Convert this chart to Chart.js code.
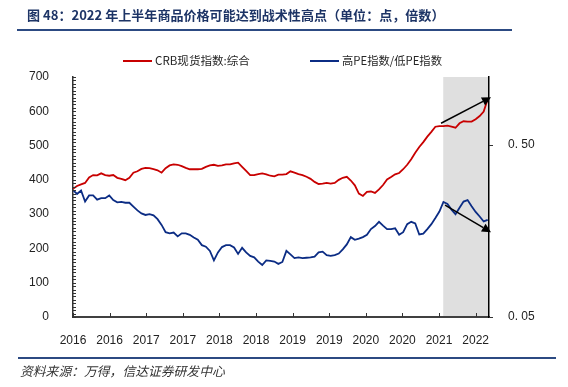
<!DOCTYPE html>
<html>
<head>
<meta charset="utf-8">
<script src="https://cdn.jsdelivr.net/npm/chart.js@4.4.1/dist/chart.umd.min.js"></script>
<style>
  html, body { margin: 0; padding: 0; background: #fff; }
  #wrap { position: relative; width: 568px; height: 387px; }
</style>
</head>
<body>
<div id="wrap"><canvas id="chart" width="568" height="387"></canvas></div>
<script>
// series sampled every 22 days from 2016-01-01
const startDate = '2016-01-01';
const endDate = '2022-03-23';
const stepDays = 22;

const crb = [
  374, 382, 387, 391, 407, 414, 413, 419, 414, 412,
  414, 406, 403, 399, 406, 421, 425, 432, 435, 434,
  431, 428, 421, 434, 442, 445, 444, 440, 435, 431,
  431, 431, 432, 438, 442, 444, 441, 442, 445, 445,
  448, 450, 438, 426, 414, 414, 417, 419, 416, 412,
  410, 415, 415, 417, 425, 421, 417, 414, 409, 403,
  394, 388, 389, 391, 389, 391, 400, 406, 409, 398,
  384, 360, 353, 365, 366, 362, 372, 385, 401, 408,
  416, 420, 431, 444, 460, 479, 496, 510, 526, 540,
  555, 557, 557, 558, 555, 552, 565, 571, 570, 570,
  577, 586, 599, 636
];

const peRatio = [
  0.382, 0.372, 0.381, 0.352, 0.368, 0.368, 0.357, 0.361, 0.361, 0.368,
  0.356, 0.350, 0.351, 0.349, 0.349, 0.339, 0.329, 0.321, 0.317, 0.319,
  0.316, 0.306, 0.291, 0.272, 0.269, 0.271, 0.261, 0.269, 0.269, 0.265,
  0.258, 0.252, 0.238, 0.234, 0.223, 0.198, 0.219, 0.233, 0.238, 0.238,
  0.232, 0.215, 0.231, 0.219, 0.210, 0.206, 0.195, 0.186, 0.198, 0.197,
  0.195, 0.189, 0.194, 0.223, 0.214, 0.204, 0.206, 0.204, 0.205, 0.206,
  0.208, 0.219, 0.221, 0.212, 0.210, 0.212, 0.216, 0.227, 0.240, 0.259,
  0.252, 0.255, 0.259, 0.265, 0.280, 0.288, 0.299, 0.289, 0.280, 0.280,
  0.282, 0.265, 0.272, 0.293, 0.299, 0.295, 0.266, 0.268, 0.280, 0.293,
  0.309, 0.326, 0.351, 0.346, 0.331, 0.319, 0.336, 0.352, 0.356, 0.340,
  0.325, 0.313, 0.300, 0.304
];

const seriesNames = ['CRB现货指数:综合', '高PE指数/低PE指数'];

// x axis: one tick every 200 days
const xTickDays = [0, 200, 400, 600, 800, 1000, 1200, 1400, 1600, 1800, 2000, 2200];
const xTickLabels = ['2016', '2016', '2017', '2017', '2018', '2018', '2019', '2019', '2020', '2020', '2021', '2022'];

const leftMax = 700;
const rightMin = 0.05;
const rightMax = 0.678;
const rightTicks = [0.05, 0.5];
const rightTickLabels = ['0. 05', '0. 50'];

// shaded period and the two trend arrows
const shadeFrom = '2021-07-16';
const shadeTo = endDate;
const crbArrow = [['2021-07-04', 565], ['2022-04-03', 641]];
const peArrow = [['2021-07-26', 0.343], ['2022-04-03', 0.272]];

const titleText = '图 48：2022 年上半年商品价格可能达到战术性高点（单位：点，倍数）';
const sourceText = '资料来源：万得，信达证券研发中心';

const RED = '#c80000';
const BLUE = '#0b2c84';
const NAVY = '#1d3466';
const cjk = '"Noto Sans CJK SC", "Noto Sans", sans-serif';
const latin = '"Liberation Sans", Arial, sans-serif';

const dayOf = (s) => (Date.parse(s) - Date.parse(startDate)) / 86400000;
const toPoints = (vals) => vals.map((v, i) => ({ x: i * stepDays, y: v }));

function fitText(ctx, text, style, size, width) {
  ctx.font = `${style} ${size}px ${cjk}`;
  const w = ctx.measureText(text).width;
  ctx.font = `${style} ${(size * width / w).toFixed(2)}px ${cjk}`;
}

function arrow(ctx, x0, y0, x1, y1) {
  const ang = Math.atan2(y1 - y0, x1 - x0);
  const head = 9, half = 4.5;
  const bx = x1 - head * Math.cos(ang), by = y1 - head * Math.sin(ang);
  ctx.beginPath();
  ctx.moveTo(x0, y0);
  ctx.lineTo(bx, by);
  ctx.stroke();
  ctx.beginPath();
  ctx.moveTo(x1, y1);
  ctx.lineTo(bx + half * Math.sin(ang), by - half * Math.cos(ang));
  ctx.lineTo(bx - half * Math.sin(ang), by + half * Math.cos(ang));
  ctx.closePath();
  ctx.fill();
}

const decor = {
  id: 'decor',
  beforeDraw(chart) {
    const { ctx, chartArea: a, scales: { x } } = chart;
    ctx.save();
    const x0 = x.getPixelForValue(dayOf(shadeFrom));
    const x1 = x.getPixelForValue(dayOf(shadeTo));
    ctx.fillStyle = '#dfdfdf';
    ctx.fillRect(x0, a.top, x1 - x0, a.bottom - a.top);
    ctx.restore();
  },
  afterDraw(chart) {
    const { ctx, chartArea: a, scales: { x, y, y2 } } = chart;
    ctx.save();

    // inward minor ticks on the left axis, small ticks on the others
    ctx.strokeStyle = '#333';
    ctx.lineWidth = 1;
    ctx.beginPath();
    for (let v = 0; v <= leftMax; v += 10) {
      const py = Math.round(y.getPixelForValue(v)) + 0.5;
      ctx.moveTo(a.left, py);
      ctx.lineTo(a.left + 3, py);
    }
    xTickDays.forEach((d) => {
      const px = Math.round(x.getPixelForValue(d)) + 0.5;
      ctx.moveTo(px, a.bottom);
      ctx.lineTo(px, a.bottom - 4);
    });
    rightTicks.forEach((v) => {
      const py = Math.round(y2.getPixelForValue(v)) + 0.5;
      ctx.moveTo(a.right, py);
      ctx.lineTo(a.right + 4, py);
    });
    ctx.stroke();

    // arrows
    ctx.strokeStyle = '#000';
    ctx.fillStyle = '#000';
    ctx.lineWidth = 1.5;
    arrow(ctx,
      x.getPixelForValue(dayOf(crbArrow[0][0])), y.getPixelForValue(crbArrow[0][1]),
      x.getPixelForValue(dayOf(crbArrow[1][0])), y.getPixelForValue(crbArrow[1][1]));
    arrow(ctx,
      x.getPixelForValue(dayOf(peArrow[0][0])), y2.getPixelForValue(peArrow[0][1]),
      x.getPixelForValue(dayOf(peArrow[1][0])), y2.getPixelForValue(peArrow[1][1]));

    // title and rules
    ctx.textBaseline = 'middle';
    ctx.fillStyle = NAVY;
    fitText(ctx, titleText, 'bold', 13, 418);
    ctx.fillText(titleText, 27, 15);
    ctx.strokeStyle = '#2c4a82';
    ctx.lineWidth = 2;
    ctx.beginPath();
    ctx.moveTo(17, 30); ctx.lineTo(512, 30);
    ctx.moveTo(18, 358); ctx.lineTo(556, 358);
    ctx.stroke();

    // legend
    const legend = [
      { name: seriesNames[0], color: RED, x: 123, w: 95 },
      { name: seriesNames[1], color: BLUE, x: 310, w: 100 }
    ];
    legend.forEach((it) => {
      ctx.strokeStyle = it.color;
      ctx.lineWidth = 2;
      ctx.beginPath();
      ctx.moveTo(it.x, 61); ctx.lineTo(it.x + 29, 61);
      ctx.stroke();
      ctx.fillStyle = '#262626';
      fitText(ctx, it.name, 'normal', 12, it.w);
      ctx.fillText(it.name, it.x + 32, 61);
    });

    // source
    ctx.fillStyle = '#333';
    fitText(ctx, sourceText, 'italic', 13, 205);
    ctx.fillText(sourceText, 20, 371);
    ctx.restore();
  }
};

const tickFont = { family: latin, size: 12 };

new Chart(document.getElementById('chart'), {
  type: 'line',
  data: {
    datasets: [
      {
        label: seriesNames[0],
        data: toPoints(crb),
        yAxisID: 'y',
        borderColor: RED,
        borderWidth: 1.8,
        pointRadius: 0,
        tension: 0
      },
      {
        label: seriesNames[1],
        data: toPoints(peRatio),
        yAxisID: 'y2',
        borderColor: BLUE,
        borderWidth: 1.8,
        pointRadius: 0,
        tension: 0
      }
    ]
  },
  options: {
    responsive: false,
    animation: false,
    events: [],
    layout: { padding: { top: 77, left: 0, right: 0, bottom: 0 } },
    plugins: { legend: { display: false }, tooltip: { enabled: false } },
    scales: {
      x: {
        type: 'linear',
        min: 0,
        max: dayOf(endDate),
        grid: { display: false },
        border: { color: '#404040', width: 2 },
        afterBuildTicks: (s) => { s.ticks = xTickDays.map((v) => ({ value: v })); },
        afterFit: (s) => { s.height = 70; },
        ticks: {
          autoSkip: false,
          maxRotation: 0,
          padding: 8,
          color: '#222',
          font: tickFont,
          callback: (v, i) => xTickLabels[i]
        }
      },
      y: {
        position: 'left',
        min: 0,
        max: leftMax,
        grid: { display: false },
        border: { color: '#333', width: 1.5 },
        afterFit: (s) => { s.width = 73; },
        ticks: { stepSize: 100, padding: 16, color: '#222', font: tickFont }
      },
      y2: {
        position: 'right',
        min: rightMin,
        max: rightMax,
        grid: { display: false },
        border: { color: '#000', width: 1.5 },
        afterBuildTicks: (s) => { s.ticks = rightTicks.map((v) => ({ value: v })); },
        afterFit: (s) => { s.width = 79; },
        ticks: {
          padding: 11,
          color: '#222',
          font: tickFont,
          callback: (v, i) => rightTickLabels[i]
        }
      }
    }
  },
  plugins: [decor]
});
</script>
</body>
</html>
